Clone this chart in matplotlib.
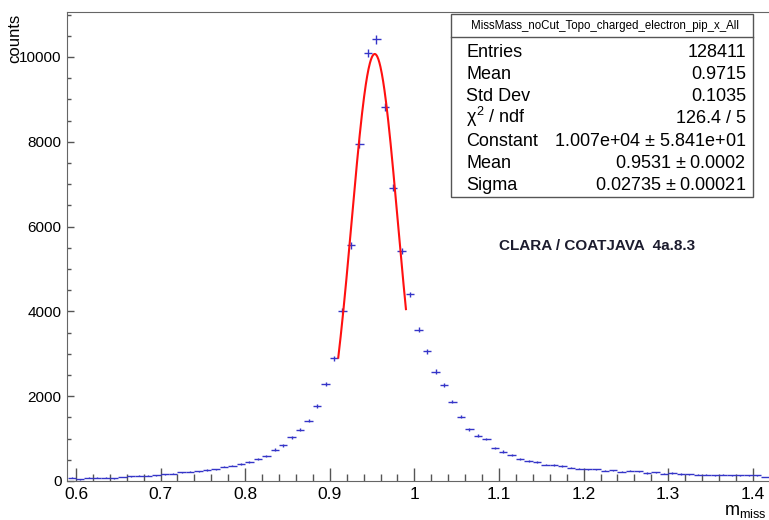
import numpy as np
import matplotlib
matplotlib.use("Agg")
import matplotlib.pyplot as plt
from matplotlib import font_manager
from matplotlib.lines import Line2D
from matplotlib.patches import Rectangle
from matplotlib.ticker import MultipleLocator

# histogram: 0.01 wide bins starting at 0.59
bin_lo = 0.59
bin_w = 0.01
counts = [79, 40, 79, 79, 79, 63, 94, 110, 126, 126,
          134, 157, 173, 205, 220, 228, 260, 275, 338, 362,
          394, 456, 519, 590, 740, 842, 1031, 1212, 1425, 1771,
          2283, 2889, 4014, 5557, 7950, 10090, 10417, 8816, 6917, 5416,
          4399, 3565, 3061, 2581, 2274, 1873, 1519, 1220, 1070, 992,
          771, 693, 622, 512, 472, 441, 386, 370, 354, 315,
          291, 275, 275, 244, 252, 220, 244, 228, 189, 205,
          173, 189, 165, 157, 150, 142, 134, 142, 134, 134,
          134, 134, 94]

# gaus fit parameters from the stats box
fit_const = 1.007e4
fit_mean = 0.9531
fit_sigma = 0.02735
fit_range = (0.91, 0.99)

stat_labels = ["Entries", "Mean", "Std Dev", r"$\chi^2$ / ndf", "Constant", "Mean", "Sigma"]
stat_values = ["128411", "0.9715", "0.1035", "126.4 / 5",
               "1.007e+04 $\\pm$ 5.841e+01", "0.9531 $\\pm$ 0.0002", "0.02735 $\\pm$ 0.00021"]
hist_name = "MissMass_noCut_Topo_charged_electron_pip_x_All"

installed = {f.name for f in font_manager.fontManager.ttflist}
narrow = "Liberation Sans Narrow" if "Liberation Sans Narrow" in installed else "Liberation Sans"
plt.rcParams['font.family'] = [narrow, 'Liberation Sans', 'DejaVu Sans']
plt.rcParams['mathtext.fontset'] = 'custom'
plt.rcParams['mathtext.rm'] = narrow
plt.rcParams['mathtext.it'] = narrow

W, H = 769, 520
fig = plt.figure(figsize=(W / 100, H / 100), dpi=100)
ax = fig.add_axes([67 / W, 1 - 481 / H, 1 - 67 / W, (481 - 12) / H])

counts = np.array(counts, dtype=float)
x = bin_lo + bin_w * (np.arange(len(counts)) + 0.5)
ax.errorbar(x, counts, xerr=bin_w / 2, yerr=np.sqrt(counts), fmt='none',
            ecolor='#3535c8', elinewidth=1.0)

xf = np.linspace(fit_range[0], fit_range[1], 200)
ax.plot(xf, fit_const * np.exp(-0.5 * ((xf - fit_mean) / fit_sigma) ** 2),
        color='#ff1010', lw=1.5)

ax.set_xlim(0.5894, 1.4191)
ax.set_ylim(0, 11060)
ax.xaxis.set_major_locator(MultipleLocator(0.1))
ax.xaxis.set_minor_locator(MultipleLocator(0.02))
ax.yaxis.set_major_locator(MultipleLocator(2000))
ax.yaxis.set_minor_locator(MultipleLocator(500))
ax.xaxis.set_major_formatter(plt.FuncFormatter(lambda v, p: f"{v:g}"))
ax.tick_params(axis='x', which='major', direction='in', length=9.5, width=1, color='#555555',
               labelsize=12.5, pad=4)
ax.tick_params(axis='x', which='minor', direction='in', length=5, width=1, color='#555555')
ax.tick_params(axis='y', which='major', direction='in', length=5, width=1, color='#555555',
               labelsize=11, pad=4)
ax.tick_params(axis='y', which='minor', direction='in', length=2.7, width=1, color='#555555')
for s in ['left', 'bottom', 'top']:
    ax.spines[s].set_color('#666666')
ax.spines['right'].set_visible(False)

fig.text(15 / W, 1 - 38 / H, "counts", rotation=90, ha='center', va='center',
         fontsize=12, family=['Liberation Sans', 'DejaVu Sans'])
fig.text(767 / W, 1 - 515 / H, r"m$_{\mathrm{miss}}$", ha='right', va='baseline', fontsize=13)

fig.text(597 / W, 1 - 245.5 / H, "CLARA / COATJAVA  4a.8.3", ha='center', va='center',
         fontsize=11, fontweight='bold', color='#1c1c2e', family=[narrow, 'DejaVu Sans'])

# stats box
def fx(px):
    return px / W

def fy(py):
    return 1 - py / H

fig.add_artist(Rectangle((fx(451), fy(197)), fx(753) - fx(451), fy(14) - fy(197),
                         transform=fig.transFigure, facecolor='white', edgecolor='#555555', lw=1))
fig.add_artist(Line2D([fx(451), fx(753)], [fy(37), fy(37)], transform=fig.transFigure,
                      color='#555555', lw=1))
fig.text(fx(605), fy(26), hist_name, ha='center', va='center', fontsize=8.3)
for i, (lab, val) in enumerate(zip(stat_labels, stat_values)):
    yb = fy(56.7 + 22.2 * i)
    fig.text(fx(466), yb, lab, ha='left', va='baseline', fontsize=13)
    fig.text(fx(746), yb, val, ha='right', va='baseline', fontsize=13)

fig.savefig("out.png", dpi=100)
